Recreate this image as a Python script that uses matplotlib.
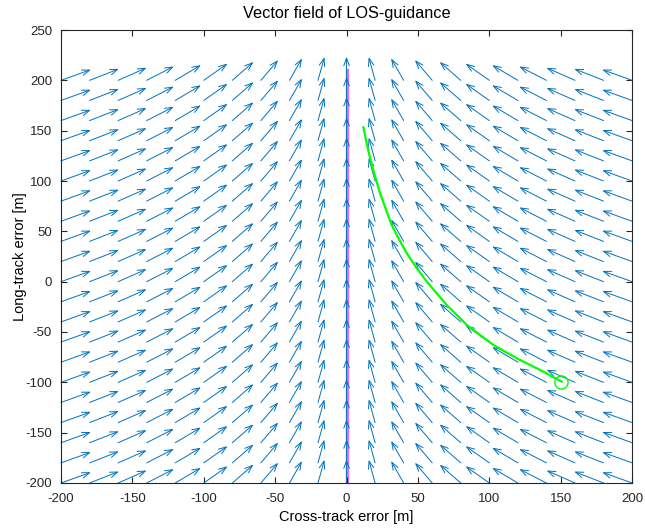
import numpy as np
import matplotlib
matplotlib.use("Agg")
import matplotlib.pyplot as plt

plt.rcParams["font.family"] = ["Liberation Sans", "DejaVu Sans"]
plt.rcParams["axes.unicode_minus"] = False

# grade do campo vetorial
x_grid = [-200, -180, -160, -140, -120, -100, -80, -60, -40, -20, 0,
          20, 40, 60, 80, 100, 120, 140, 160, 180, 200]
y_grid = [-200, -180, -160, -140, -120, -100, -80, -60, -40, -20, 0,
          20, 40, 60, 80, 100, 120, 140, 160, 180, 200]
# direcao das setas por coluna (graus, a partir do eixo x)
heading_deg = [27, 29, 32, 36, 40, 45, 51, 59, 68, 79, 90,
               101, 112, 121, 129, 135, 140, 144, 148, 151, 153]
arrow_len = 23.5

# caminho desejado (x = 0)
path_x = [0, 0]
path_y = [-200, 210]

# trajetoria do veiculo
traj_x = [150.7, 144.9, 137.9, 130.9, 121.5, 112.2, 102.9, 93.5, 84.2, 77.2,
          70.2, 63.2, 56.2, 49.2, 42.2, 37.0, 31.6, 27.7, 23.5, 20.0,
          16.5, 14.1, 11.8]
traj_y = [-99.3, -95.0, -89.4, -84.4, -77.8, -70.5, -62.9, -53.0, -43.0, -33.1,
          -23.2, -11.6, 0.0, 13.3, 28.2, 41.4, 56.3, 71.2, 87.8, 104.3,
          122.5, 137.4, 153.3]
start_x = [150]
start_y = [-100]

fig = plt.figure(figsize=(6.45, 5.31), dpi=100)
ax = fig.add_axes([0.0946, 0.0904, 0.8854, 0.8531])

ax.plot(path_x, path_y, color="#e070f0", lw=2.4, zorder=1)

for i, x0 in enumerate(x_grid):
    ang = np.deg2rad(heading_deg[i])
    u = arrow_len * np.cos(ang)
    v = arrow_len * np.sin(ang)
    for y0 in y_grid:
        ax.annotate("", xy=(x0 + u, y0 + v), xytext=(x0, y0),
                    arrowprops=dict(arrowstyle="->,head_length=0.55,head_width=0.2",
                                    color="#0072BD", lw=0.7,
                                    shrinkA=0, shrinkB=0),
                    annotation_clip=False, zorder=2)

ax.plot(traj_x, traj_y, color="#00ff00", lw=1.6, zorder=3, solid_joinstyle="round")
ax.plot(start_x, start_y, "o", mfc="none", mec="#00ff00", ms=9.5, mew=1.0, zorder=3)

ax.set_xlim(-200, 200)
ax.set_ylim(-200, 250)
ax.set_xticks(range(-200, 201, 50))
ax.set_yticks(range(-200, 251, 50))
ax.tick_params(direction="in", top=True, right=True, length=4, width=0.8,
               labelsize=9.5, colors="#262626")
ax.tick_params(axis="x", pad=7)
ax.tick_params(axis="y", pad=6.5)
for s in ax.spines.values():
    s.set_color("#262626")
    s.set_linewidth(0.8)

ax.set_title("Vector field of LOS-guidance", fontsize=11.7, pad=9)
ax.set_xlabel("Cross-track error [m]", fontsize=10.5, labelpad=4)
ax.set_ylabel("Long-track error [m]", fontsize=10.5, labelpad=-1)

fig.savefig("out.png", dpi=100)
